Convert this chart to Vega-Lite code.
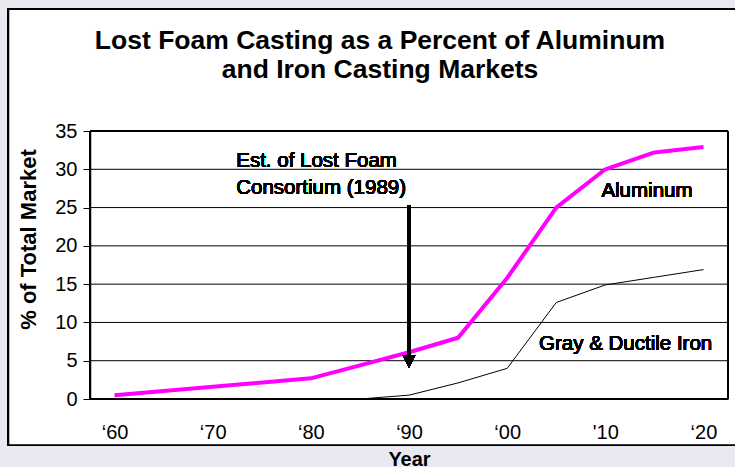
{
  "$schema": "https://vega.github.io/schema/vega-lite/v6.json",
  "width": 638,
  "height": 268,
  "autosize": {"type": "none"},
  "padding": {"left": 90, "top": 131, "right": 7, "bottom": 68},
  "background": "#e9e9f1",
  "title": {
    "text": ["Lost Foam Casting as a Percent of Aluminum", "and Iron Casting Markets"],
    "font": "Liberation Sans",
    "fontSize": 26.5,
    "fontWeight": "bold",
    "color": "black",
    "anchor": "middle",
    "dx": -29,
    "offset": -75,
    "lineHeight": 29
  },
  "config": {
    "view": {"stroke": null},
    "text": {"font": "Liberation Sans", "fontSize": 20.5, "fontWeight": 400, "fill": "black", "stroke": null},
    "axis": {
      "grid": false,
      "domainColor": "black",
      "labelFont": "Liberation Sans",
      "labelFontSize": 20,
      "labelFontWeight": 400,
      "labelColor": "black",
      "labelFlush": false,
      "titleFont": "Liberation Sans",
      "titleFontWeight": "bold",
      "titleColor": "black"
    },
    "axisX": {
      "tickCount": 7,
      "labelExpr": "datum.value == 2010 ? \"'10\" : '\u2018' + substring('' + datum.value, 2, 4)",
      "ticks": false,
      "domainWidth": 1,
      "labelPadding": 23,
      "titleFontSize": 20,
      "titleBaseline": "alphabetic",
      "titleY": 66
    },
    "axisY": {
      "tickCount": 7,
      "domainWidth": 1.5,
      "ticks": true,
      "tickSize": 7,
      "tickColor": "black",
      "tickWidth": 1,
      "labelPadding": 6,
      "titleFontSize": 22,
      "titleAngle": 270,
      "titleAlign": "center",
      "titleBaseline": "middle",
      "titleX": -62,
      "titleY": 108
    }
  },
  "data": {
    "values": [
      {"Year": 1960, "Percent": 0.5, "Series": "Aluminum"},
      {"Year": 1980, "Percent": 2.7, "Series": "Aluminum"},
      {"Year": 1985, "Percent": 4.4, "Series": "Aluminum"},
      {"Year": 1990, "Percent": 6.1, "Series": "Aluminum"},
      {"Year": 1995, "Percent": 8.0, "Series": "Aluminum"},
      {"Year": 2000, "Percent": 15.8, "Series": "Aluminum"},
      {"Year": 2005, "Percent": 25.0, "Series": "Aluminum"},
      {"Year": 2010, "Percent": 30.0, "Series": "Aluminum"},
      {"Year": 2015, "Percent": 32.2, "Series": "Aluminum"},
      {"Year": 2020, "Percent": 32.9, "Series": "Aluminum"},
      {"Year": 1985, "Percent": 0.0, "Series": "Gray & Ductile Iron"},
      {"Year": 1990, "Percent": 0.5, "Series": "Gray & Ductile Iron"},
      {"Year": 1995, "Percent": 2.1, "Series": "Gray & Ductile Iron"},
      {"Year": 2000, "Percent": 4.0, "Series": "Gray & Ductile Iron"},
      {"Year": 2005, "Percent": 12.6, "Series": "Gray & Ductile Iron"},
      {"Year": 2010, "Percent": 14.9, "Series": "Gray & Ductile Iron"},
      {"Year": 2015, "Percent": 15.9, "Series": "Gray & Ductile Iron"},
      {"Year": 2020, "Percent": 16.9, "Series": "Gray & Ductile Iron"}
    ]
  },
  "layer": [
    {
      "mark": {"type": "rect", "fill": "white", "stroke": "black", "strokeWidth": 1.5},
      "encoding": {
        "x": {"datum": 1949.2, "type": "quantitative", "scale": {"domain": [1957.5, 2022.5], "nice": false, "zero": false}, "axis": {"title": "Year", "zindex": 1}},
        "x2": {"datum": 2032},
        "y": {"datum": 50.9, "type": "quantitative", "scale": {"domain": [0, 35], "nice": false, "zero": true}, "axis": {"title": "% of Total Market", "zindex": 1}},
        "y2": {"datum": -6.0}
      }
    },
    {
      "data": {"values": [{"g": 5}, {"g": 10}, {"g": 15}, {"g": 20}, {"g": 25}, {"g": 30}]},
      "mark": {"type": "rule", "color": "black", "strokeWidth": 1},
      "encoding": {
        "y": {"field": "g", "type": "quantitative", "axis": {"title": "% of Total Market", "zindex": 1}}
      }
    },
    {
      "mark": {"type": "rect", "fill": null, "stroke": "black", "strokeWidth": 1},
      "encoding": {
        "x": {"datum": 1957.5, "type": "quantitative", "axis": {"title": "Year", "zindex": 1}},
        "x2": {"datum": 2022.5},
        "y": {"datum": 0, "type": "quantitative", "axis": {"title": "% of Total Market", "zindex": 1}},
        "y2": {"datum": 35}
      }
    },
    {
      "transform": [{"filter": "datum.Series === 'Gray & Ductile Iron'"}],
      "mark": {"type": "line", "color": "black", "strokeWidth": 1},
      "encoding": {
        "x": {"field": "Year", "type": "quantitative", "axis": {"title": "Year", "zindex": 1}},
        "y": {"field": "Percent", "type": "quantitative", "axis": {"title": "% of Total Market", "zindex": 1}}
      }
    },
    {
      "transform": [{"filter": "datum.Series === 'Aluminum'"}],
      "mark": {"type": "line", "color": "#ff00ff", "strokeWidth": 4, "strokeJoin": "round"},
      "encoding": {
        "x": {"field": "Year", "type": "quantitative", "axis": {"title": "Year", "zindex": 1}},
        "y": {"field": "Percent", "type": "quantitative", "axis": {"title": "% of Total Market", "zindex": 1}}
      }
    },
    {
      "mark": {"type": "rule", "color": "black", "strokeWidth": 3},
      "encoding": {
        "x": {"datum": 1990, "type": "quantitative", "axis": {"title": "Year", "zindex": 1}},
        "y": {"datum": 25.3, "type": "quantitative", "axis": {"title": "% of Total Market", "zindex": 1}},
        "y2": {"datum": 5.6}
      }
    },
    {
      "mark": {"type": "point", "shape": "M-1,-1L1,-1L0,1Z", "size": 169, "filled": true, "color": "black", "opacity": 1, "strokeWidth": 0},
      "encoding": {
        "x": {"datum": 1990, "type": "quantitative", "axis": {"title": "Year", "zindex": 1}},
        "y": {"datum": 4.9, "type": "quantitative", "axis": {"title": "% of Total Market", "zindex": 1}}
      }
    },
    {
      "mark": {"type": "text", "align": "left", "baseline": "alphabetic", "lineHeight": 26.7, "fontWeight": 400, "fill": "black", "stroke": null},
      "encoding": {
        "x": {"datum": 1972.4, "type": "quantitative", "axis": {"title": "Year", "zindex": 1}},
        "y": {"datum": 30.3, "type": "quantitative", "axis": {"title": "% of Total Market", "zindex": 1}},
        "text": {"value": ["Est. of Lost Foam", "Consortium (1989)"]}
      }
    },
    {
      "mark": {"type": "text", "align": "left", "baseline": "alphabetic", "fontWeight": 400, "fill": "black", "stroke": null},
      "encoding": {
        "x": {"datum": 2009.6, "type": "quantitative", "axis": {"title": "Year", "zindex": 1}},
        "y": {"datum": 26.4, "type": "quantitative", "axis": {"title": "% of Total Market", "zindex": 1}},
        "text": {"value": "Aluminum"}
      }
    },
    {
      "mark": {"type": "text", "align": "left", "baseline": "alphabetic", "fontWeight": 400, "fill": "black", "stroke": null},
      "encoding": {
        "x": {"datum": 2003.25, "type": "quantitative", "axis": {"title": "Year", "zindex": 1}},
        "y": {"datum": 6.4, "type": "quantitative", "axis": {"title": "% of Total Market", "zindex": 1}},
        "text": {"value": "Gray & Ductile Iron"}
      }
    }
  ]
}
